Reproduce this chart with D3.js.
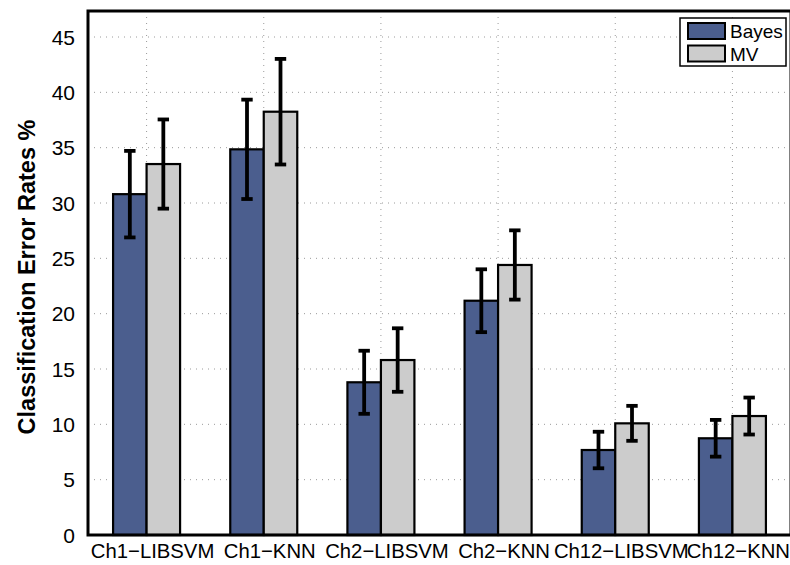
<!DOCTYPE html>
<html><head><meta charset="utf-8">
<script src="https://cdn.jsdelivr.net/npm/d3@7"></script>
<style>body{margin:0;background:#fff;}svg{display:block;font-family:"Liberation Sans",Arial,sans-serif;}</style>
</head><body>
<svg id="c" width="790" height="565"></svg>
<script>
const categories = ["Ch1\u2212LIBSVM","Ch1\u2212KNN","Ch2\u2212LIBSVM","Ch2\u2212KNN","Ch12\u2212LIBSVM","Ch12\u2212KNN"];
const seriesNames = ["Bayes","MV"];
const bayesValues = [30.8, 34.85, 13.8, 21.17, 7.68, 8.74];
const bayesErrors = [3.91, 4.49, 2.85, 2.84, 1.65, 1.66];
const mvValues = [33.52, 38.25, 15.81, 24.4, 10.09, 10.75];
const mvErrors = [4.03, 4.77, 2.87, 3.13, 1.58, 1.67];
const yTicks = [0,5,10,15,20,25,30,35,40,45];
const colors = ["#4b5e8e","#cccccc"];

const svg = d3.select("#c");
const L = 88, R = 791, T = 11, B = 535;
const x = d3.scaleBand().domain(categories).range([L, R]).padding(0);
const y = d3.scaleLinear().domain([0, 47.35]).range([B, T]);
const barW = 33.5;

// grid
const g = svg.append("g");
g.selectAll(".hg").data(yTicks.slice(1)).join("line")
  .attr("x1", L).attr("x2", R).attr("y1", d => y(d)).attr("y2", d => y(d))
  .attr("stroke", "#9a9a9a").attr("stroke-width", 1).attr("stroke-dasharray", "1,5");
g.selectAll(".vg").data(categories).join("line")
  .attr("x1", d => x(d) + x.bandwidth()/2).attr("x2", d => x(d) + x.bandwidth()/2)
  .attr("y1", T).attr("y2", B)
  .attr("stroke", "#9a9a9a").attr("stroke-width", 1).attr("stroke-dasharray", "1,5");

const series = [
  {name: seriesNames[0], vals: bayesValues, errs: bayesErrors, off: -barW, color: colors[0]},
  {name: seriesNames[1], vals: mvValues, errs: mvErrors, off: 0, color: colors[1]}
];

series.forEach(s => {
  svg.append("g").selectAll("rect").data(categories).join("rect")
    .attr("x", d => x(d) + x.bandwidth()/2 + s.off)
    .attr("width", barW)
    .attr("y", (d,i) => y(s.vals[i]))
    .attr("height", (d,i) => y(0) - y(s.vals[i]))
    .attr("fill", s.color).attr("stroke", "#000").attr("stroke-width", 2.2);
});

series.forEach(s => {
  const eg = svg.append("g").attr("stroke", "#000").attr("stroke-width", 3.8);
  categories.forEach((c, i) => {
    const cx = x(c) + x.bandwidth()/2 + s.off + barW/2;
    const yt = y(s.vals[i] + s.errs[i]), yb = y(s.vals[i] - s.errs[i]);
    eg.append("line").attr("x1", cx).attr("x2", cx).attr("y1", yt).attr("y2", yb);
    eg.append("line").attr("x1", cx-5.7).attr("x2", cx+5.7).attr("y1", yt).attr("y2", yt);
    eg.append("line").attr("x1", cx-5.7).attr("x2", cx+5.7).attr("y1", yb).attr("y2", yb);
  });
});

// frame
svg.append("rect").attr("x", L).attr("y", T).attr("width", R-L).attr("height", B-T)
  .attr("fill", "none").attr("stroke", "#000").attr("stroke-width", 3);

// y tick labels
svg.append("g").selectAll("text").data(yTicks).join("text")
  .attr("x", 75).attr("y", d => y(d)).attr("dy", "0.36em")
  .attr("text-anchor", "end").attr("font-size", 21).attr("fill", "#000")
  .text(d => d);

// x labels
svg.append("g").selectAll("text").data(categories).join("text")
  .attr("x", d => x(d) + x.bandwidth()/2 + 6).attr("y", 558)
  .attr("text-anchor", "middle").attr("font-size", 20.3).attr("fill", "#000")
  .text(d => d);

// y title
svg.append("text").attr("transform", "translate(35,277) rotate(-90)")
  .attr("text-anchor", "middle").attr("font-size", 23.5).attr("font-weight", "bold")
  .text("Classification Error Rates %");

// legend
const lg = svg.append("g");
lg.append("rect").attr("x", 680).attr("y", 18).attr("width", 106).attr("height", 48)
  .attr("fill", "#fff").attr("stroke", "#000").attr("stroke-width", 1.5);
series.forEach((s, i) => {
  lg.append("rect").attr("x", 688).attr("y", 23 + i*22.5).attr("width", 37).attr("height", 16)
    .attr("fill", s.color).attr("stroke", "#000").attr("stroke-width", 2);
  lg.append("text").attr("x", 730).attr("y", 37.5 + i*23).attr("font-size", 19).text(s.name);
});
</script>
</body></html>
